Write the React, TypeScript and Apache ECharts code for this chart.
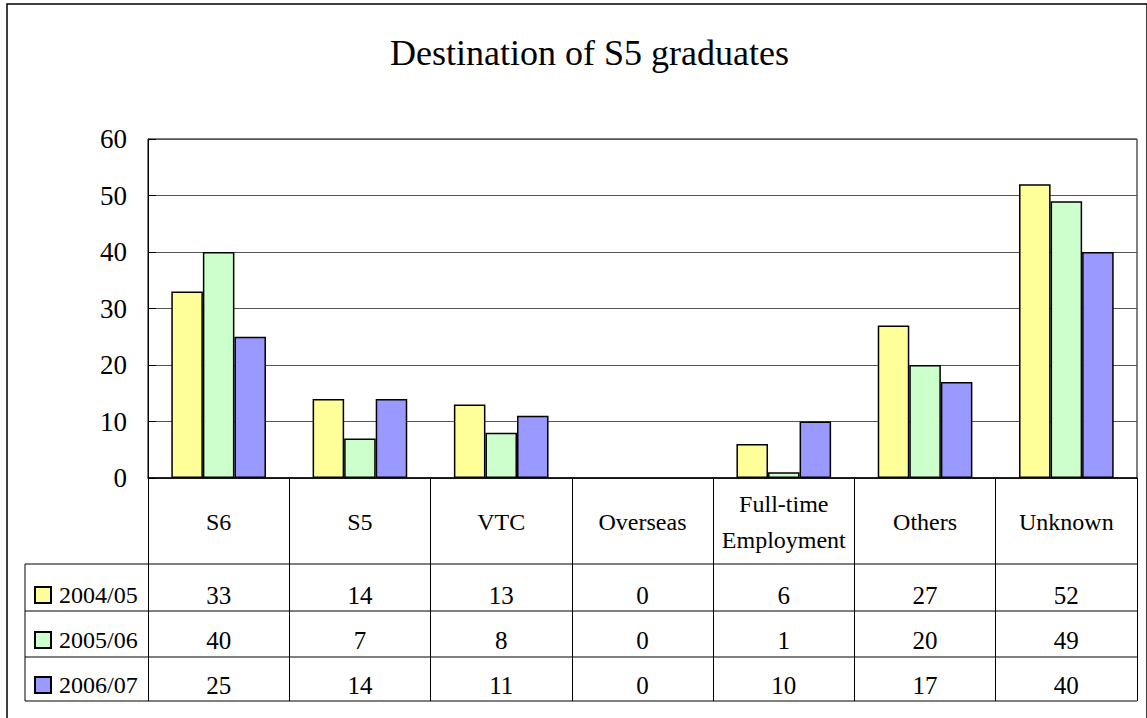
import React, { useEffect, useRef } from "react";
import * as echarts from "echarts";

const categories = ["S6", "S5", "VTC", "Overseas", "Full-time\nEmployment", "Others", "Unknown"];
const seriesNames = ["2004/05", "2005/06", "2006/07"];
const values2004 = [33, 14, 13, 0, 6, 27, 52];
const values2005 = [40, 7, 8, 0, 1, 20, 49];
const values2006 = [25, 14, 11, 0, 10, 17, 40];
const seriesColors = ["#FFFF99", "#CCFFCC", "#9999FF"];
const yTicks = { min: 0, max: 60, interval: 10 };

const FONT = "Liberation Serif";

export default function App() {
  const ref = useRef<HTMLDivElement>(null);
  useEffect(() => {
    if (!ref.current) return;
    const chart = echarts.init(ref.current, null, { renderer: "svg" });
    const allValues = [values2004, values2005, values2006];
    const gridLeft = 148, gridRight = 1137, gridTop = 139, gridBottom = 478;
    const rowLines = [564, 611, 657, 701];
    const rowTextY = [595, 640, 685];
    chart.setOption({
      animation: false,
      backgroundColor: "#fff",
      textStyle: { fontFamily: FONT },
      title: {
        text: "Destination of S5 graduates",
        left: 390,
        top: 35,
        padding: 0,
        textStyle: { fontFamily: FONT, fontSize: 36, fontWeight: "normal", color: "#000" },
      },
      legend: {
        orient: "vertical",
        left: 34,
        top: 583,
        itemGap: 21,
        itemWidth: 16,
        itemHeight: 16,
        padding: 0,
        icon: "rect",
        textStyle: { fontFamily: FONT, fontSize: 24, lineHeight: 24, color: "#000", padding: [0, 0, 0, 3] },
        data: seriesNames,
      },
      grid: {
        left: gridLeft,
        right: 1147 - gridRight,
        top: gridTop,
        bottom: 718 - gridBottom,
        show: true,
        borderColor: "#000",
        borderWidth: 1,
      },
      xAxis: {
        type: "category",
        data: categories,
        axisLine: { lineStyle: { color: "#000", width: 1.5 } },
        axisTick: { show: true, length: 223, lineStyle: { color: "#000", width: 1 } },
        axisLabel: {
          fontFamily: FONT,
          fontSize: 24,
          color: "#000",
          margin: 44,
          verticalAlign: "middle",
          lineHeight: 36,
          interval: 0,
        },
      },
      yAxis: {
        type: "value",
        min: yTicks.min,
        max: yTicks.max,
        interval: yTicks.interval,
        axisLine: { show: true, lineStyle: { color: "#000", width: 1 } },
        axisTick: { show: true, inside: true, length: 8, lineStyle: { color: "#000" } },
        axisLabel: { fontFamily: FONT, fontSize: 27, color: "#000", margin: 21 },
        splitLine: { lineStyle: { color: "#555", width: 1 } },
      },
      series: seriesNames.map((name, i) => ({
        name,
        type: "bar",
        data: allValues[i].map((v) => (v === 0 ? { value: v, itemStyle: { borderWidth: 0 } } : v)),
        barGap: "0%",
        barCategoryGap: "33%",
        itemStyle: { color: seriesColors[i], borderColor: "#000", borderWidth: 1.5 },
      })),
    });

    const centers = categories.map((_, i) => chart.convertToPixel({ xAxisIndex: 0 }, i) as number);
    const graphics: any[] = [
      {
        type: "rect",
        shape: { x: 7, y: 4, width: 1140, height: 730 },
        style: { fill: "none", stroke: "#000", lineWidth: 1.5 },
        silent: true,
        z: 100,
      },
      ...rowLines.map((y) => ({
        type: "line",
        shape: { x1: 25, y1: y, x2: gridRight, y2: y },
        style: { stroke: "#000", lineWidth: 1 },
        z: 100,
      })),
      {
        type: "line",
        shape: { x1: 25, y1: rowLines[0], x2: 25, y2: rowLines[rowLines.length - 1] },
        style: { stroke: "#000", lineWidth: 1 },
        z: 100,
      },
    ];
    allValues.forEach((vals, r) => {
      vals.forEach((v, c) => {
        graphics.push({
          type: "text",
          x: centers[c],
          y: rowTextY[r],
          style: {
            text: String(v),
            fontFamily: FONT,
            fontSize: 25,
            fill: "#000",
            align: "center",
            verticalAlign: "middle",
          },
          z: 100,
        });
      });
    });
    chart.setOption({ graphic: graphics });
    return () => chart.dispose();
  }, []);
  return (
    <div
      ref={ref}
      style={{ position: "fixed", left: 0, top: 0, width: 1147, height: 718 }}
    />
  );
}
